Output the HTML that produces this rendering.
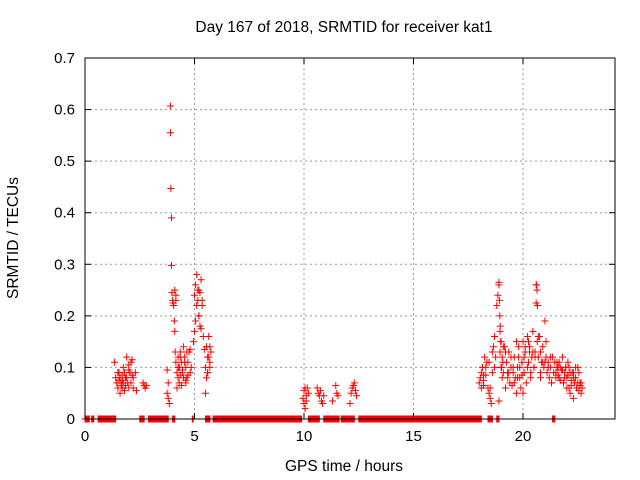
<!DOCTYPE html>
<html><head><meta charset="utf-8"><style>
body{margin:0;background:#fff}
svg{display:block;font-family:"Liberation Sans",sans-serif}
</style></head><body>
<svg id="chart" width="640" height="480" xmlns="http://www.w3.org/2000/svg">
<text x="344" y="32" font-size="15.5" text-anchor="middle">Day 167 of 2018, SRMTID for receiver kat1</text>
<text x="344" y="471" font-size="15.5" text-anchor="middle">GPS time / hours</text>
<text transform="translate(18,238) rotate(-90)" font-size="15.5" text-anchor="middle">SRMTID / TECUs</text>
<g id="grid"></g>
<g id="marks"></g>
<g id="axes"></g>
</svg>
<script>
const xTicks=[0,5,10,15,20];
const yTicks=[0,0.1,0.2,0.3,0.4,0.5,0.6,0.7];
const yTickLabels=["0","0.1","0.2","0.3","0.4","0.5","0.6","0.7"];
const zeroSegments=[[0,0.2],[0.3,0.4],[0.6,1.4],[2.5,2.7],[2.9,3.8],[4.0,4.1],[4.9,4.95],[5.5,5.7],[5.85,9.9],[10.2,10.7],[10.9,11.6],[11.7,12.3],[12.5,18.1],[18.4,18.6],[18.8,18.9],[21.35,21.45]];
const times=[1.35,1.4,1.45,1.5,1.5,1.55,1.6,1.6,1.65,1.7,1.7,1.75,1.8,1.8,1.85,1.9,1.9,1.95,2.0,2.0,2.05,2.1,2.1,2.15,2.2,2.2,2.3,2.35,2.65,2.7,2.75,2.8,
3.75,3.75,3.8,3.8,3.85,3.9,3.9,3.92,3.95,3.95,3.97,4.0,4.02,4.05,4.08,4.1,4.1,4.12,4.15,4.15,4.2,4.2,4.25,4.25,4.3,4.3,4.35,4.35,4.4,4.4,4.45,4.5,4.5,4.55,4.6,4.6,4.65,4.7,4.7,4.75,4.8,4.8,4.85,
4.95,5.0,5.0,5.05,5.1,5.1,5.15,5.2,5.2,5.25,5.3,5.3,5.35,5.4,5.45,5.5,5.5,5.55,5.6,5.6,5.65,5.7,5.7,5.75,
9.95,10.0,10.0,10.05,10.05,10.1,10.1,10.15,10.2,10.6,10.65,10.7,10.75,10.8,10.85,10.9,11.3,11.45,11.5,11.55,12.1,12.15,12.2,12.25,12.3,12.35,12.4,
18.05,18.1,18.15,18.2,18.25,18.3,18.35,18.4,18.45,18.5,18.55,18.6,18.65,18.7,18.75,18.8,18.85,18.9,18.95,18.95,19.0,19.0,19.05,19.05,19.1,19.15,19.2,19.25,19.3,19.35,19.4,19.45,19.5,19.55,19.6,19.65,19.7,19.75,19.8,19.85,19.9,19.95,20.0,20.05,20.1,20.15,20.2,20.25,20.3,20.35,20.4,20.45,20.5,20.55,20.6,20.6,20.65,20.7,20.75,20.8,20.85,20.9,20.95,21.0,21.05,21.1,21.15,21.2,21.25,21.3,21.35,21.4,21.45,21.5,21.55,21.6,21.65,21.7,21.75,21.8,21.85,21.9,21.95,22.0,22.05,22.1,22.15,22.2,22.25,22.3,22.35,22.4,22.45,22.5,22.55,22.6,22.65,22.7,
18.2,18.5,18.9,19.1,19.3,19.6,19.8,20.0,20.3,20.5,20.8,21.0,21.3,21.6,21.9,22.1,22.3,22.5,4.3,4.6,5.25,5.6,1.7,2.0,
18.0,18.1,18.2,18.3,18.45,18.6,18.7,18.9,18.92,18.94,18.96,18.98,19.02,19.08,19.2,19.35,19.45,19.55,19.7,19.75,19.85,19.95,20.05,20.1,20.2,20.25,20.35,20.45,20.55,20.62,20.64,20.66,20.7,20.8,20.9,21.05,21.15,21.25,21.5,21.55,21.65,21.7,21.8,21.85,21.95,22.0,22.05,22.15,22.2,22.3,22.4,22.45,22.55,22.6,22.65,
4.15,4.25,4.35,4.45,4.55,4.65,5.05,5.15,5.2,5.35,5.55,5.65,5.7,1.55,1.65,1.75,1.85,2.05,2.15];
const values=[0.11,0.08,0.07,0.09,0.06,0.075,0.05,0.08,0.07,0.085,0.06,0.07,0.09,0.055,0.065,0.12,0.08,0.07,0.105,0.06,0.09,0.11,0.07,0.115,0.08,0.06,0.09,0.055,0.07,0.065,0.06,0.065,
0.095,0.05,0.07,0.04,0.03,0.607,0.555,0.447,0.39,0.298,0.245,0.23,0.225,0.22,0.19,0.25,0.17,0.13,0.24,0.11,0.09,0.06,0.12,0.08,0.1,0.07,0.13,0.085,0.11,0.065,0.095,0.14,0.08,0.12,0.07,0.1,0.13,0.085,0.11,0.13,0.09,0.135,0.1,
0.15,0.17,0.24,0.26,0.28,0.22,0.23,0.2,0.25,0.245,0.175,0.27,0.22,0.16,0.135,0.1,0.05,0.08,0.12,0.09,0.16,0.14,0.11,0.13,
0.04,0.055,0.03,0.06,0.02,0.045,0.035,0.06,0.05,0.06,0.05,0.045,0.055,0.035,0.03,0.045,0.035,0.065,0.05,0.045,0.03,0.05,0.06,0.065,0.07,0.055,0.045,
0.08,0.06,0.1,0.075,0.12,0.085,0.11,0.06,0.05,0.04,0.03,0.09,0.14,0.16,0.12,0.22,0.24,0.265,0.17,0.13,0.1,0.15,0.08,0.12,0.09,0.14,0.06,0.11,0.08,0.13,0.07,0.1,0.065,0.09,0.12,0.08,0.05,0.1,0.14,0.08,0.06,0.11,0.15,0.09,0.13,0.07,0.16,0.11,0.14,0.09,0.12,0.17,0.1,0.13,0.26,0.225,0.15,0.12,0.16,0.08,0.11,0.14,0.1,0.19,0.12,0.09,0.11,0.08,0.1,0.07,0.12,0.09,0.11,0.08,0.1,0.085,0.11,0.075,0.095,0.12,0.07,0.09,0.1,0.06,0.085,0.1,0.05,0.075,0.09,0.04,0.07,0.08,0.06,0.1,0.055,0.065,0.07,0.06,
0.085,0.06,0.035,0.14,0.09,0.07,0.12,0.05,0.13,0.1,0.09,0.11,0.07,0.1,0.08,0.06,0.09,0.07,0.1,0.075,0.18,0.09,0.075,0.095,
0.07,0.09,0.065,0.1,0.11,0.13,0.1,0.26,0.23,0.2,0.18,0.15,0.1,0.11,0.13,0.09,0.12,0.1,0.15,0.08,0.1,0.085,0.12,0.14,0.1,0.15,0.08,0.13,0.12,0.26,0.25,0.22,0.16,0.13,0.11,0.15,0.1,0.12,0.09,0.11,0.08,0.1,0.095,0.07,0.1,0.08,0.11,0.09,0.065,0.08,0.1,0.06,0.09,0.07,0.05,
0.23,0.1,0.12,0.09,0.11,0.08,0.19,0.25,0.2,0.23,0.14,0.12,0.1,0.09,0.065,0.1,0.08,0.09,0.085];
const X0=85,X1=615,Y0=419,Y1=58,XMAX=24.2,YMAX=0.7;
const sx=t=>X0+t/XMAX*(X1-X0);
const sy=v=>Y0-v/YMAX*(Y0-Y1);
const NS="http://www.w3.org/2000/svg";
function mk(tag,at,parent){const e=document.createElementNS(NS,tag);for(const k in at)e.setAttribute(k,at[k]);parent.appendChild(e);return e;}
const grid=document.getElementById('grid'),axes=document.getElementById('axes'),marks=document.getElementById('marks');
xTicks.forEach(t=>{const x=sx(t);
 if(t>0){const g=mk('line',{x1:x,x2:x,y1:Y1,y2:Y0,stroke:'#999','stroke-dasharray':'2,3'},grid);
 
 }
 mk('line',{x1:x,x2:x,y1:Y0,y2:Y0-6,stroke:'#000'},axes);mk('line',{x1:x,x2:x,y1:Y1,y2:Y1+6,stroke:'#000'},axes);
 const l=mk('text',{x:x,y:Y0+22,'font-size':15,'text-anchor':'middle'},axes);l.textContent=t;
 
 });
yTicks.forEach((v,i)=>{const y=sy(v);
 if(i>0&&i<yTicks.length-1){const g=mk('line',{x1:X0,x2:X1,y1:y,y2:y,stroke:'#999','stroke-dasharray':'2,3'},grid);
 
 }
 mk('line',{x1:X0,x2:X0+6,y1:y,y2:y,stroke:'#000'},axes);mk('line',{x1:X1,x2:X1-6,y1:y,y2:y,stroke:'#000'},axes);
 const l=mk('text',{x:X0-10,y:y+5,'font-size':15,'text-anchor':'end'},axes);l.textContent=yTickLabels[i];
 
 });
const fr=mk('rect',{x:X0,y:Y1,width:X1-X0,height:Y0-Y1,fill:'none',stroke:'#000'},axes);


function plus(t,v){if(v===undefined)return;const x=sx(t),y=sy(v);
 const p=mk('path',{d:`M${x-3.5},${y}h7M${x},${y-3.5}v7`,stroke:'#f00','stroke-width':1,fill:'none'},marks);
 
 }
zeroSegments.forEach(([a,b])=>{for(let t=a;t<=b+1e-9;t+=0.02)plus(t,0);});
times.forEach((t,i)=>plus(t,values[i]));
</script>
</body></html>
